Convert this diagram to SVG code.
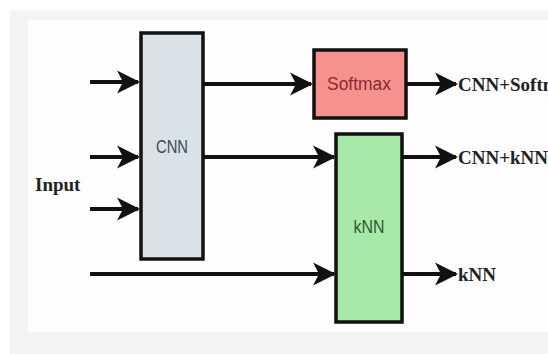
<svg xmlns="http://www.w3.org/2000/svg" width="548" height="354" viewBox="0 0 548 354">
<defs>
<style>
.box{stroke:#111;stroke-width:3.5}
.lbl{font-family:"Liberation Sans",Arial,sans-serif;font-size:18px;text-anchor:middle}
.out{font-family:"Liberation Serif","Times New Roman",serif;font-size:19px;font-weight:bold;fill:#222}
.wire{stroke:#111;stroke-width:4;fill:none}
</style>
<marker id="ah" markerUnits="userSpaceOnUse" markerWidth="24" markerHeight="26" refX="21" refY="12" orient="auto" viewBox="0 0 24 24">
<path d="M0,0.5 L23,12 L0,23.5 L6,12 Z" fill="#111"/>
</marker>
</defs>
<rect width="548" height="354" fill="#ffffff"/>
<rect x="10" y="10" width="538" height="344" fill="#f4f4f4"/>
<rect x="28" y="20" width="520" height="312" fill="#fefefe"/>
<g id="connectors">
<line class="wire" x1="90" y1="82" x2="138" y2="82" marker-end="url(#ah)"/>
<line class="wire" x1="90" y1="157" x2="138" y2="157" marker-end="url(#ah)"/>
<line class="wire" x1="90" y1="209" x2="138" y2="209" marker-end="url(#ah)"/>
<line class="wire" x1="90" y1="274" x2="334" y2="274" marker-end="url(#ah)"/>
<line class="wire" x1="203" y1="84" x2="311" y2="84" marker-end="url(#ah)"/>
<line class="wire" x1="203" y1="157" x2="334" y2="157" marker-end="url(#ah)"/>
<line class="wire" x1="406" y1="84" x2="456" y2="84" marker-end="url(#ah)"/>
<line class="wire" x1="402" y1="157" x2="456" y2="157" marker-end="url(#ah)"/>
<line class="wire" x1="402" y1="274" x2="456" y2="274" marker-end="url(#ah)"/>
</g>
<g id="cnn">
<rect class="box" x="141" y="33" width="62" height="226" fill="#d8e2e8"/>
<text class="lbl" x="172" y="153" font-size="19" fill="#3a4a55" textLength="32" lengthAdjust="spacingAndGlyphs">CNN</text>
</g>
<g id="softmax">
<rect class="box" x="314" y="50" width="92" height="68" fill="#f5928d"/>
<text class="lbl" x="359" y="90" fill="#8a2a32" textLength="64" lengthAdjust="spacingAndGlyphs">Softmax</text>
</g>
<g id="knn">
<rect class="box" x="336" y="134" width="66" height="188" fill="#a8e8a8"/>
<text class="lbl" x="369" y="233" fill="#2f5a2f" textLength="31" lengthAdjust="spacingAndGlyphs">kNN</text>
</g>
<g id="labels">
<text class="out" x="35" y="191" font-size="18">Input</text>
<text class="out" x="458" y="91">CNN+Softmax</text>
<text class="out" x="458" y="164">CNN+kNN</text>
<text class="out" x="458" y="281">kNN</text>
</g>
</svg>
